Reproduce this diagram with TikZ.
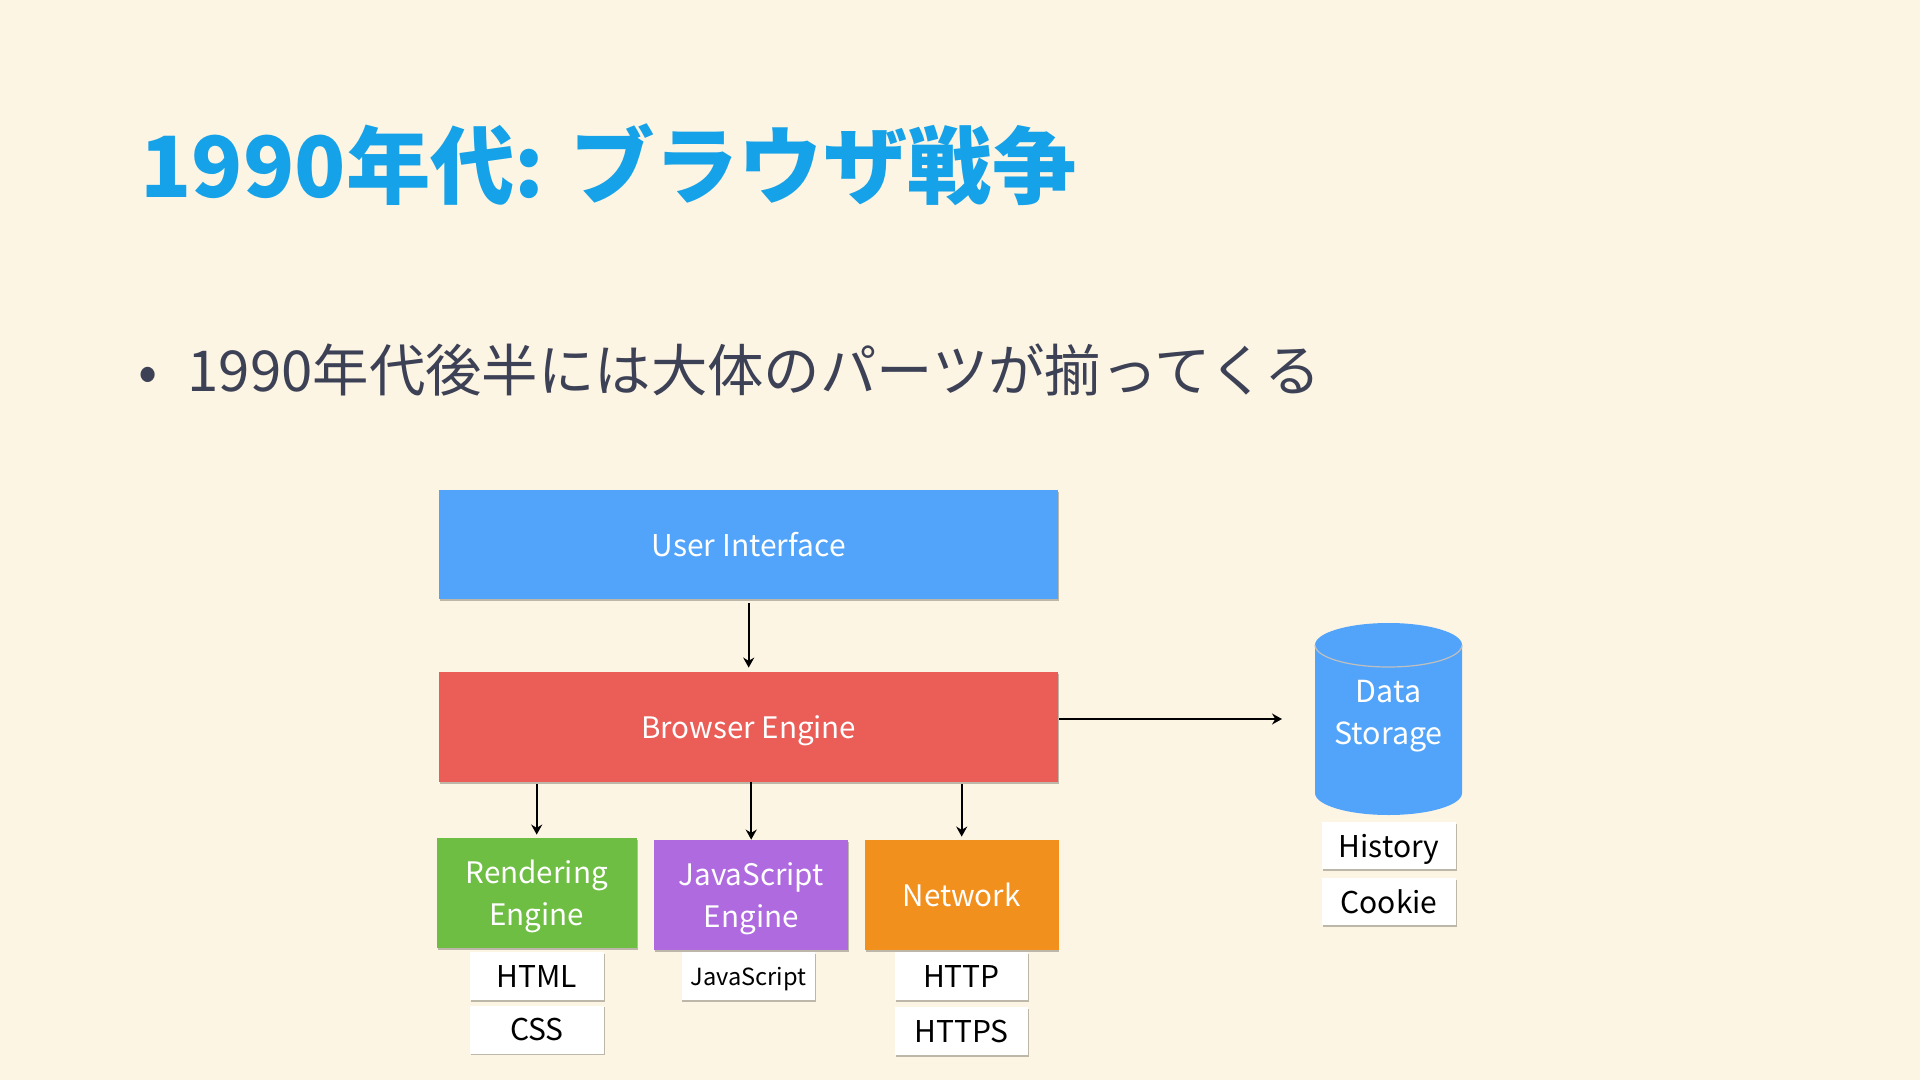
\documentclass[tikz,border=0pt]{standalone}
\usepackage{fontspec}
\newfontfamily\jp{Noto Sans CJK JP}
\usetikzlibrary{arrows.meta,shadows}
\definecolor{bg}{HTML}{FDF5E4}
\definecolor{titleblue}{HTML}{16A2E8}
\definecolor{bodytext}{HTML}{3D4155}
\definecolor{uiblue}{HTML}{52A4FA}
\definecolor{bered}{HTML}{EB5D57}
\definecolor{rgreen}{HTML}{6FBE44}
\definecolor{jspurple}{HTML}{AF6AE0}
\definecolor{netorange}{HTML}{F2901E}
\tikzset{
  box/.style={inner sep=0pt, align=center, text=white, text depth=0pt,
    font=\jp\fontsize{14.8}{21}\selectfont,
    drop shadow={shadow xshift=0.4pt, shadow yshift=-0.8pt, opacity=0.25, fill=black}},
  subbox/.style={fill=white, inner sep=0pt, align=center, text=black, text depth=0pt,
    minimum width=66.7pt, minimum height=24pt,
    font=\jp\fontsize{15}{18}\selectfont,
    drop shadow={shadow xshift=0.4pt, shadow yshift=-0.8pt, opacity=0.25, fill=black}},
  arr/.style={-{Stealth[length=5pt,width=5.5pt]}, line width=1pt, black},
}
\begin{document}
\begin{tikzpicture}[x=0.5pt,y=-0.5pt]
\fill[bg] (0,0) rectangle (1920,1080);
\useasboundingbox (0,0) rectangle (1920,1080);

% title and bullet
\node[anchor=base west, inner sep=0pt, text=titleblue, font=\jp\bfseries\fontsize{42.2}{50}\selectfont] (title) at (140,198) {1990年代: ブラウザ戦争};
\node[anchor=base west, inner sep=0pt, text=bodytext, font=\jp\fontsize{28.2}{34}\selectfont] (bullet) at (138,392) {•\hspace{15pt}1990年代後半には大体のパーツが揃ってくる};

% main boxes
\node[box, fill=uiblue, minimum width=309.75pt, minimum height=54.5pt, font=\jp\fontsize{15}{21}\selectfont] (ui) at (748.7,544.5) {User Interface};
\node[box, fill=bered, minimum width=309.75pt, minimum height=55pt] (be) at (748.7,727) {Browser Engine};
\node[box, fill=rgreen, minimum width=100pt, minimum height=55pt] (rend) at (536.7,893) {Rendering\\Engine};
\node[box, fill=jspurple, minimum width=96.8pt, minimum height=55pt] (js) at (751.2,895) {JavaScript\\Engine};
\node[box, fill=netorange, minimum width=96.8pt, minimum height=55pt] (net) at (961.7,895) {Network};

% sub boxes
\node[subbox] (html) at (537,976) {HTML};
\node[subbox] (css) at (537,1029.5) {CSS};
\node[subbox, font=\jp\fontsize{11.8}{14}\selectfont] (jsl) at (748.3,976) {JavaScript};
\node[subbox] (http) at (961.5,976) {HTTP};
\node[subbox] (https) at (961.5,1031) {HTTPS};
\node[subbox, minimum width=67pt, minimum height=23.5pt] (hist) at (1389,845.5) {History};
\node[subbox, minimum width=67pt, minimum height=23.5pt] (cook) at (1389,901.5) {Cookie};

% data storage cylinder
\fill[uiblue] (1315,645) -- (1315,793) arc[start angle=180, end angle=0, x radius=73.5, y radius=22] -- (1462,645) -- cycle;
\fill[uiblue] (1388.5,645) ellipse[x radius=73.5, y radius=22];
\draw[black!25, line width=0.6pt] (1315,645) arc[start angle=180, end angle=0, x radius=73.5, y radius=22];
\node[inner sep=0pt, align=center, text=white, font=\jp\fontsize{15.2}{21}\selectfont] (ds) at (1388.5,716) {Data\\Storage};
\coordinate (dsin) at (1282,719);

% connectors
\draw[arr, shorten <=2pt, shorten >=2pt] (ui) -- (be);
\draw[arr, shorten <=1pt, shorten >=1.5pt] (be.south -| rend.north) -- (rend.north);
\draw[arr] (be.south -| js.north) -- (js.north);
\draw[arr, shorten <=1pt, shorten >=1.5pt] (be.south -| net.north) -- (net.north);
\draw[arr] (be.east |- dsin) -- (dsin);
\end{tikzpicture}
\end{document}
